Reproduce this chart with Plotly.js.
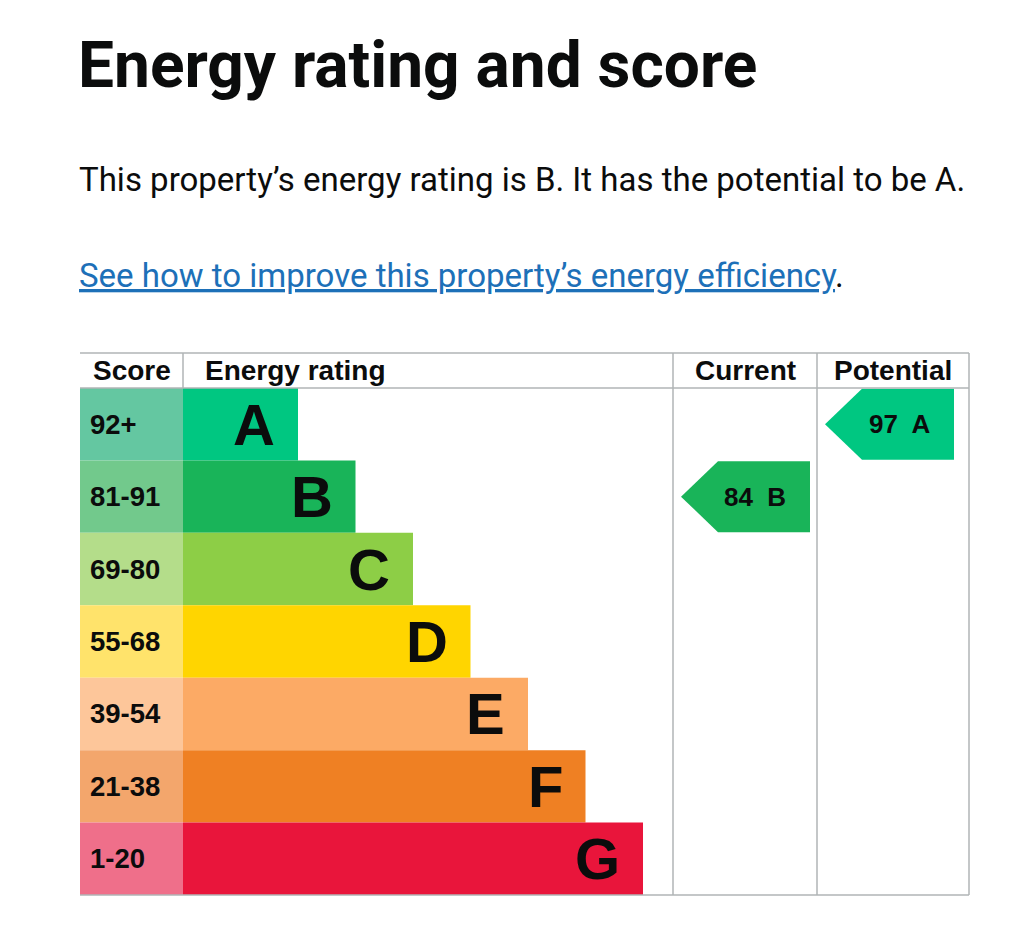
<!DOCTYPE html>
<html>
<head>
<meta charset="utf-8">
<script src="https://cdn.plot.ly/plotly-3.0.1.min.js"></script>
<style>html,body{margin:0;padding:0;background:#fff;}#chart{width:1024px;height:952px;}</style>
</head>
<body>
<div id="chart"></div>
<script>
// ---- data ----
const bands = ['A', 'B', 'C', 'D', 'E', 'F', 'G'];
const scoreRanges = ['92+', '81-91', '69-80', '55-68', '39-54', '21-38', '1-20'];
const bandMin = [92, 81, 69, 55, 39, 21, 1];
const barUnits = [2, 3, 4, 5, 6, 7, 8];
const bandColors = ['#00c781', '#19b459', '#8dce46', '#ffd500', '#fcaa65', '#ef8023', '#e9153b'];
const scoreColors = ['#64c7a1', '#72c98c', '#b4dd8a', '#ffe36b', '#fdc69a', '#f3a66c', '#ef6f8a'];
const headers = ['Score', 'Energy rating', 'Current', 'Potential'];
const currentScore = 84;
const potentialScore = 97;
const titleText = 'Energy rating and score';
const summaryText = 'This property’s energy rating is B. It has the potential to be A.';
const linkText = 'See how to improve this property’s energy efficiency';

// ---- layout geometry (axis units = px inside table) ----
const W = 1024, H = 952;
const TL = 80, TR = 969, TTOP = 353, HBOT = 388, TBOT = 895;
const TW = TR - TL;
const PAD = 3;
const SCORE_W = 103;
const UNIT = 57.5;
const CUR_X0 = 593, CUR_X1 = 737, POT_X1 = TW;
const ARROW_W = 129, ARROW_TIP = 37;
const rowH = (TBOT - HBOT) / bands.length;
const headerTop = -0.5 - (HBOT - TTOP) / rowH;
const headerMid = (headerTop - 0.5) / 2;
const idx = bands.map((b, i) => i);

function bandOf(score) {
  for (let i = 0; i < bandMin.length; i++) if (score >= bandMin[i]) return i;
  return bandMin.length - 1;
}

const tableFont = 'Liberation Sans, Arial, sans-serif';
const gray = '#b1b4b6';

const traces = [];
traces.push({
  type: 'bar', orientation: 'h', y: idx, x: idx.map(() => SCORE_W), base: 0, width: 1,
  marker: {color: scoreColors, line: {width: 0}}, hoverinfo: 'skip', showlegend: false
});
traces.push({
  type: 'bar', orientation: 'h', y: idx, x: barUnits.map(u => u * UNIT), base: SCORE_W, width: 1,
  marker: {color: bandColors, line: {width: 0}}, hoverinfo: 'skip', showlegend: false
});

const annotations = [];
bands.forEach((b, i) => {
  annotations.push({
    xref: 'x', yref: 'y', x: SCORE_W + barUnits[i] * UNIT - 21, y: i, text: b,
    xanchor: 'right', yanchor: 'middle', showarrow: false,
    font: {family: tableFont, size: 58, color: '#0b0c0c', weight: 'bold'}
  });
  annotations.push({
    xref: 'x', yref: 'y', x: 8, y: i, text: scoreRanges[i],
    xanchor: 'left', yanchor: 'middle', showarrow: false,
    font: {family: tableFont, size: 27.5, color: '#0b0c0c', weight: 'bold'}
  });
});

function arrow(score, colX0) {
  const i = bandOf(score);
  const tip = colX0 + 8, end = tip + ARROW_W, body = tip + ARROW_TIP, h = 0.49;
  traces.push({
    type: 'scatter', mode: 'lines', fill: 'toself',
    x: [tip, body, end, end, body, tip], y: [i, i - h, i - h, i + h, i + h, i],
    fillcolor: bandColors[i], line: {width: 0, color: bandColors[i]},
    hoverinfo: 'skip', showlegend: false
  });
  annotations.push({
    xref: 'x', yref: 'y', x: tip + 74, y: i, text: score + '  ' + bands[i],
    xanchor: 'center', yanchor: 'middle', showarrow: false,
    font: {family: tableFont, size: 26, color: '#0b0c0c', weight: 'bold'}
  });
}
arrow(currentScore, CUR_X0);
arrow(potentialScore, CUR_X1);

const hdrX = [11, SCORE_W + 20, (CUR_X0 + CUR_X1) / 2, (CUR_X1 + POT_X1) / 2];
const hdrAnchor = ['left', 'left', 'center', 'center'];
headers.forEach((t, k) => {
  annotations.push({
    xref: 'x', yref: 'y', x: hdrX[k], y: headerMid, text: t,
    xanchor: hdrAnchor[k], yanchor: 'middle', showarrow: false,
    font: {family: tableFont, size: 28, color: '#0b0c0c', weight: 'bold'}
  });
});

const pageFont = 'Roboto, Noto Sans, sans-serif';
annotations.push({
  xref: 'paper', yref: 'paper', x: (TL - 4) / W, y: 1 - 66 / H, text: titleText,
  xanchor: 'left', yanchor: 'middle', showarrow: false,
  font: {family: pageFont, size: 64, color: '#0b0c0c', weight: 'bold'}
});
annotations.push({
  xref: 'paper', yref: 'paper', x: (TL - 3) / W, y: 1 - 179 / H, text: summaryText,
  xanchor: 'left', yanchor: 'middle', showarrow: false,
  font: {family: pageFont, size: 33, color: '#0b0c0c'}
});
annotations.push({
  xref: 'paper', yref: 'paper', x: (TL - 3) / W, y: 1 - 275 / H,
  text: '<span style="color:#1d70b8"><u>' + linkText + '</u></span>.',
  xanchor: 'left', yanchor: 'middle', showarrow: false,
  font: {family: pageFont, size: 33, color: '#0b0c0c'}
});

const shapes = [];
function ln(x0, y0, x1, y1) {
  shapes.push({type: 'line', xref: 'x', yref: 'y', x0, y0, x1, y1, line: {color: gray, width: 1.5}, layer: 'above'});
}
ln(0, headerTop, TW, headerTop);
ln(0, -0.5, TW, -0.5);
ln(0, 6.5, TW, 6.5);
ln(SCORE_W, headerTop, SCORE_W, -0.5);
ln(CUR_X0, headerTop, CUR_X0, 6.5);
ln(CUR_X1, headerTop, CUR_X1, 6.5);
ln(TW, headerTop, TW, 6.5);

const padY = PAD / rowH;
const layout = {
  width: W, height: H, margin: {l: 0, r: 0, t: 0, b: 0},
  paper_bgcolor: '#fff', plot_bgcolor: '#fff',
  showlegend: false, hovermode: false, barmode: 'overlay',
  xaxis: {domain: [(TL - PAD) / W, (TR + PAD) / W], range: [-PAD, TW + PAD], visible: false, fixedrange: true},
  yaxis: {domain: [(H - TBOT - PAD) / H, (H - TTOP + PAD) / H], range: [6.5 + padY, headerTop - padY], visible: false, fixedrange: true},
  annotations, shapes
};

Plotly.newPlot('chart', traces, layout, {staticPlot: true, displayModeBar: false});
</script>
</body>
</html>
